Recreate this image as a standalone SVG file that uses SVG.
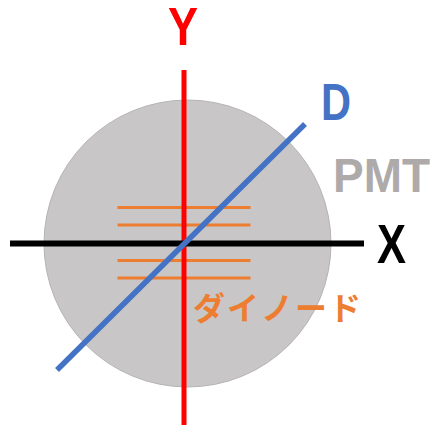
<svg xmlns="http://www.w3.org/2000/svg" width="431" height="428" viewBox="0 0 431 428">
<style>
.lbl{font-family:"Liberation Sans","Noto Sans",Arial,sans-serif;font-weight:bold}
.dy{stroke:#ED7D31;stroke-width:3}
</style>
<rect width="431" height="428" fill="#FFFFFF"/>
<g id="pmt">
<circle cx="187.5" cy="243.5" r="143.5" fill="#C8C6C7" stroke="#B5B3B4" stroke-width="1"/>
<text class="lbl" x="333" y="191.5" font-size="49" fill="#AEAAAA" textLength="97" lengthAdjust="spacingAndGlyphs">PMT</text>
</g>
<g id="dynode">
<line class="dy" x1="117.5" y1="207.5" x2="250.5" y2="207.5"/>
<line class="dy" x1="117.5" y1="225" x2="250.5" y2="225"/>
<line class="dy" x1="117.5" y1="260.5" x2="250.5" y2="260.5"/>
<line class="dy" x1="117.5" y1="278" x2="250.5" y2="278"/>
<text x="193" y="320" font-family="'Noto Sans CJK JP',sans-serif" font-weight="bold" font-size="32" fill="#ED7D31" textLength="168" lengthAdjust="spacing">ダイノード</text>
</g>
<g id="connectors">
<line id="axis-y" x1="184" y1="70" x2="184" y2="425" stroke="#FF0000" stroke-width="5"/>
<line id="axis-x" x1="10" y1="243.5" x2="364" y2="243.5" stroke="#000000" stroke-width="6"/>
<line id="axis-d" x1="57" y1="370" x2="305" y2="124" stroke="#4472C4" stroke-width="5.5"/>
</g>
<g id="label-y"><text class="lbl" x="168" y="45" font-size="53" fill="#FF0000" textLength="30" lengthAdjust="spacingAndGlyphs">Y</text></g>
<g id="label-x"><text class="lbl" x="377" y="262.5" font-size="55" fill="#000000" textLength="29" lengthAdjust="spacingAndGlyphs">X</text></g>
<g id="label-d"><text class="lbl" x="321" y="120" font-size="52" fill="#4472C4" textLength="30" lengthAdjust="spacingAndGlyphs">D</text></g>
</svg>
